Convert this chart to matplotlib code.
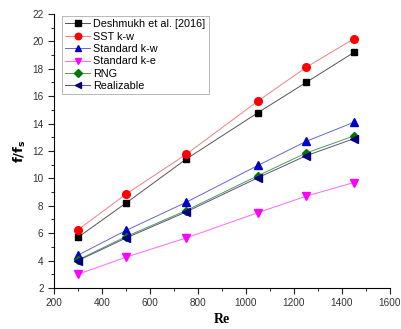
import matplotlib
matplotlib.use("Agg")
import matplotlib.pyplot as plt
from matplotlib.ticker import MultipleLocator

re_vals = [300, 500, 750, 1050, 1250, 1450]
deshmukh = [5.7, 8.2, 11.4, 14.8, 17.0, 19.2]
sst_kw = [6.25, 8.85, 11.75, 15.65, 18.1, 20.2]
std_kw = [4.4, 6.2, 8.25, 10.95, 12.7, 14.1]
std_ke = [3.0, 4.25, 5.65, 7.5, 8.7, 9.7]
rng = [4.05, 5.75, 7.65, 10.2, 11.85, 13.1]
realizable = [4.0, 5.65, 7.55, 10.05, 11.65, 12.9]

labels = ["Deshmukh et al. [2016]", "SST k-w", "Standard k-w", "Standard k-e", "RNG", "Realizable"]
series = [deshmukh, sst_kw, std_kw, std_ke, rng, realizable]
styles = [
    ("s", "black", "#555555", 5),
    ("o", "red", "#f08080", 5.5),
    ("^", "#0000cc", "#6666cc", 5.5),
    ("v", "#ff00ff", "#ff66ff", 5.5),
    ("D", "#007700", "#559955", 4.5),
    ("<", "#000080", "#555588", 5.5),
]

plt.rcParams['font.family'] = ['Liberation Sans', 'DejaVu Sans']
fig = plt.figure(figsize=(4.01, 3.29), dpi=100)
x0, x1 = 54 / 401, 390 / 401
y0, y1 = 1 - 288 / 329, 1 - 14 / 329
ax = fig.add_axes([x0, y0, x1 - x0, y1 - y0])

for lab, ys, (m, mc, lc, ms) in zip(labels, series, styles):
    ax.plot(re_vals, ys, color=lc, lw=0.7, marker=m, markersize=ms,
            markerfacecolor=mc, markeredgecolor=mc, label=lab)

ax.set_xlim(200, 1600)
ax.set_ylim(2, 22)
ax.xaxis.set_major_locator(MultipleLocator(200))
ax.xaxis.set_minor_locator(MultipleLocator(100))
ax.yaxis.set_major_locator(MultipleLocator(2))
ax.yaxis.set_minor_locator(MultipleLocator(1))
ax.spines['top'].set_visible(False)
ax.spines['right'].set_visible(False)
ax.tick_params(axis='both', which='major', direction='out', length=4, width=0.8,
               labelsize=7.2, colors='#222222', labelcolor='#333333')
ax.tick_params(axis='both', which='minor', direction='out', length=2.5, width=0.6)

ax.set_xlabel("Re", fontfamily="Liberation Serif", fontweight="bold", fontsize=10, labelpad=3)
ax.set_ylabel(r"$\mathbf{f/f_s}$", fontsize=9.5, labelpad=3)

leg = ax.legend(loc="upper left", fontsize=7.8, frameon=True, fancybox=False,
                edgecolor="#999999", borderpad=0.3, labelspacing=0.22,
                handlelength=2.3, handletextpad=0.3, borderaxespad=0,
                bbox_to_anchor=(0.024, 0.993), markerscale=0.85)
leg.get_frame().set_linewidth(0.6)

fig.savefig("out.png", dpi=100)
